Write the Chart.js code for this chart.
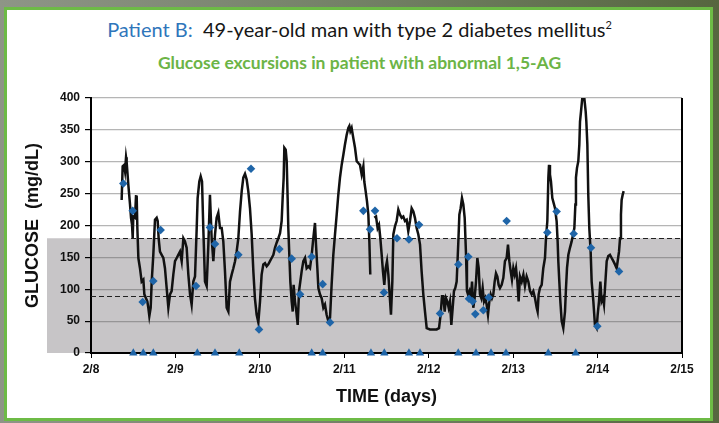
<!DOCTYPE html>
<html>
<head>
<meta charset="utf-8">
<script src="https://cdn.jsdelivr.net/npm/chart.js@4.4.1/dist/chart.umd.min.js"></script>
<style>
  html, body { margin: 0; padding: 0; }
  body {
    width: 719px; height: 423px; position: relative; overflow: hidden;
    background: linear-gradient(to right, #8e9587 0%, #707e62 55%, #56663f 100%);
  }
  #frame {
    position: absolute; left: 4px; top: 7px; width: 703px; height: 408px;
    border: 3px solid #6dbb46; background: #fff;
  }
  #title {
    position: absolute; left: 0; top: 17px; width: 719px; text-align: center;
    font-family: Lato, "Open Sans", sans-serif; font-size: 20px; color: #161616;
  }
  #title .pt { color: #2f76bb; }
  #title sup { font-size: 11px; vertical-align: 8px; line-height: 0; }
  #subtitle {
    position: absolute; left: 0; top: 52px; width: 719px; text-align: center;
    font-family: Lato, "Open Sans", sans-serif; font-weight: bold; font-size: 17.5px; color: #6cb446;
  }
  canvas { position: absolute; left: 0; top: 0; }
</style>
</head>
<body>
<div id="frame"></div>
<div id="title"><span class="pt">Patient B:</span>&nbsp; 49-year-old man with type 2 diabetes mellitus<sup>2</sup></div>
<div id="subtitle">Glucose excursions in patient with abnormal 1,5-AG</div>
<canvas id="glucoseChart" width="719" height="423"></canvas>
<script>
// x values are days after 2/8 00:00
const dayLabels = ["2/8", "2/9", "2/10", "2/11", "2/12", "2/13", "2/14", "2/15"];

// continuous sensor trace (null = sensor gap)
const cgmTime = [
  0.363, 0.375, 0.391, 0.403, 0.415, 0.422, 0.442, 0.462, 0.474, 0.486, 0.494, 0.501, 0.521, 0.533, 0.541, 0.549,
  0.561, 0.580, 0.600, 0.620, 0.632, 0.651, 0.667, 0.679, 0.691, 0.707, 0.719, 0.738, 0.758, 0.778, 0.790, 0.801,
  0.817, 0.837, 0.857, 0.876, 0.896, 0.916, 0.936, 0.955, 0.975, 0.995, 1.015, 1.034, 1.054, 1.074, 1.094, 1.113,
  1.133, 1.153, 1.173, 1.192, 1.212, 1.232, 1.252, 1.263, 1.283, 1.299, 1.315, 1.330, 1.350, 1.370, 1.390, 1.409,
  1.429, 1.449, 1.469, 1.488, 1.508, 1.528, 1.548, 1.567, 1.587, 1.607, 1.627, 1.646, 1.666, 1.686, 1.706, 1.725,
  1.745, 1.765, 1.785, 1.804, 1.824, 1.844, 1.863, 1.883, 1.903, 1.923, 1.942, 1.962, 1.982, 2.002, 2.021, 2.041,
  2.061, 2.081, 2.100, 2.120, 2.140, 2.160, 2.179, 2.199, 2.219, 2.239, 2.258, 2.270, 2.282, 2.290, 2.306, 2.318,
  2.329, 2.337, 2.349, 2.361, 2.377, 2.389, 2.400, 2.416, 2.432, 2.448, 2.464, 2.479, 2.495, 2.515, 2.535, 2.554,
  2.574, 2.594, 2.614, 2.633, 2.653, 2.665, 2.681, 2.693, 2.712, 2.732, 2.752, 2.771, 2.791, 2.811, 2.831, 2.850,
  2.870, 2.890, 2.910, 2.929, 2.949, 2.969, 2.989, 3.008, 3.028, 3.048, 3.060, 3.072, 3.087, 3.107, 3.127, 3.147,
  3.166, 3.186, 3.206, 3.226, 3.237, 3.253, 3.269, 3.285, 3.297, 3.308, 3.330, 3.356, 3.376, 3.395, 3.411, 3.427,
  3.443, 3.458, 3.474, 3.490, 3.506, 3.522, 3.537, 3.553, 3.569, 3.581, 3.601, 3.620, 3.640, 3.660, 3.680, 3.699,
  3.719, 3.739, 3.758, 3.778, 3.798, 3.818, 3.837, 3.857, 3.877, 3.897, 3.916, 3.936, 3.956, 3.976, 4.015, 4.055,
  4.094, 4.122, 4.141, 4.157, 4.173, 4.189, 4.205, 4.220, 4.236, 4.252, 4.268, 4.284, 4.299, 4.315, 4.331, 4.351,
  4.363, 4.378, 4.394, 4.410, 4.426, 4.442, 4.453, 4.465, 4.481, 4.497, 4.513, 4.528, 4.544, 4.560, 4.576, 4.592,
  4.607, 4.623, 4.639, 4.655, 4.670, 4.686, 4.702, 4.718, 4.734, 4.749, 4.765, 4.781, 4.797, 4.813, 4.828, 4.844,
  4.864, 4.884, 4.903, 4.923, 4.939, 4.955, 4.971, 4.986, 5.002, 5.018, 5.034, 5.050, 5.065, 5.081, 5.101, 5.121,
  5.140, 5.160, 5.180, 5.200, 5.219, 5.239, 5.259, 5.279, 5.290, 5.302, 5.318, 5.338, 5.357, 5.377, 5.389, 5.405,
  5.417, 5.425, 5.436, 5.448, 5.464, 5.480, 5.496, 5.515, 5.527, 5.535, 5.547, 5.559, 5.575, 5.594, 5.614, 5.626,
  5.638, 5.654, 5.673, 5.693, 5.713, 5.725, 5.737, 5.744, 5.756, 5.772, 5.784, 5.792, 5.804, 5.819, 5.843, 5.859,
  5.867, 5.879, 5.890, 5.902, 5.918, 5.930, 5.950, 5.969, 5.989, 6.001, 6.017, 6.033, 6.048, 6.064, 6.076, 6.088,
  6.108, 6.127, 6.147, 6.167, 6.187, 6.206, 6.226, 6.238, 6.254, 6.266, 6.277, 6.285, 6.297, 6.309
];
const cgmGlucose = [
  240, 293, 295, 285, 307, 300, 264, 233, 212, 201, 180, 214, 212, 246, 247, 196,
  149, 133, 112, 115, 92, 86, 81, 71, 58, 71, 112, 154, 209, 212, 207, 180,
  159, 154, 149, 133, 102, 71, 92, 97, 123, 144, 149, 154, 159, 144, 180, 175,
  165, 123, 92, 76, 112, 120, 196, 243, 269, 277, 269, 196, 112, 105, 170, 248,
  180, 144, 186, 212, 220, 196, 196, 175, 128, 71, 65, 112, 123, 133, 144, 159,
  180, 222, 254, 275, 281, 272, 254, 227, 186, 128, 85, 60, 48, 81, 123, 139,
  141, 136, 139, 144, 149, 154, 165, 173, 180, 188, 207, 243, 275, 322, 319, 301,
  243, 196, 154, 112, 81, 65, 107, 81, 65, 44, 97, 112, 128, 144, 149, 133,
  136, 133, 154, 180, 204, 170, 133, 102, 92, 86, 71, 76, 60, 50, 55, 107,
  154, 186, 217, 248, 275, 295, 311, 327, 342, 353, 356, 348, 353, 337, 322, 301,
  298, 295, 280, 293, 269, 254, 238, 217, 175, 123, null, 212, 214, 196, 201, 180,
  154, 128, 107, 133, 144, 123, 92, 60, 112, 186, 199, 207, 225, 217, 212, 214,
  207, 209, 191, 207, 227, 222, 212, 196, 186, 170, 128, 92, 65, 39, 37, 37,
  37, 39, 60, 89, 89, 65, 86, 81, 71, 81, 44, 71, 97, 102, 112, 175,
  217, 227, 243, 233, 212, 154, 97, 92, 97, 81, 112, 71, 86, 112, 149, 133,
  92, 86, 102, 81, 86, 76, 60, 81, 92, 86, 92, 112, 125, 120, 107, 102,
  107, 118, 144, 149, 170, 144, 128, 115, 133, 123, 133, 112, 81, 120, 112, 123,
  105, 120, 112, 97, 92, 97, 86, 71, 65, 92, 102, 107, 133, 149, 180, 207,
  275, 295, 280, 269, 243, 235, 227, 207, 175, 144, 112, 81, 50, 39, 65, 102,
  133, 154, 165, 175, 188, 196, 233, 275, 290, 301, 327, 363, 379, 400, 400, 379,
  363, 327, 248, 196, 159, 112, 81, 44, 39, 60, 81, 112, 81, 86, 76, 102,
  144, 152, 154, 149, 144, 139, 133, 144, 159, 180, 217, 240, 248, 254
];

// fingerstick meter readings (diamonds)
const meterTime = [
  0.383, 0.494, 0.612, 0.738, 0.825, 1.244, 1.409, 1.469, 1.745, 1.895, 1.990, 2.231, 2.377,
  2.476, 2.614, 2.744, 2.831, 3.226, 3.305, 3.364, 3.470, 3.624, 3.766, 3.885, 4.134, 4.351,
  4.469, 4.477, 4.520, 4.552, 4.647, 4.710, 4.923, 5.405, 5.515, 5.717, 5.922, 5.997, 6.254
];
const meterGlucose = [
  266, 223, 80, 113, 193, 105, 197, 171, 154, 289, 37, 163, 148,
  92, 151, 108, 48, 223, 194, 223, 95, 180, 178, 201, 62, 139,
  151, 85, 81, 61, 67, 87, 207, 189, 222, 187, 165, 42, 128
];

// calibration entries (triangles on the time axis)
const calibTime = [
  0.501, 0.619, 0.738, 1.259, 1.469, 1.756, 2.614, 2.744, 3.316,
  3.474, 3.766, 3.897, 4.350, 4.560, 4.738, 4.915, 5.416, 5.741
];

const targetRange = [0, 180];
const dashedLevels = [180, 90];

const tickFont = { family: "'Liberation Sans Narrow', 'Arial Narrow', Arial, sans-serif", size: 12, weight: "bold" };
const titleFont = { family: "'Liberation Sans Narrow', 'Arial Narrow', Arial, sans-serif", size: 18, weight: "bold" };

const rangePlugin = {
    id: "rangeBand",
    beforeDraw(chart) {
        const { ctx, chartArea, scales } = chart;
        const top = scales.y.getPixelForValue(targetRange[1]);
        const bottom = scales.y.getPixelForValue(targetRange[0]);
        ctx.save();
        ctx.fillStyle = "#c7c5c7";
        ctx.fillRect(chartArea.left - 44, top, chartArea.right - chartArea.left + 44, bottom - top);
        ctx.restore();
    },
    beforeDatasetsDraw(chart) {
        const { ctx, chartArea, scales } = chart;
        ctx.save();
        ctx.strokeStyle = "#222";
        ctx.lineWidth = 1;
        ctx.setLineDash([5, 3]);
        dashedLevels.forEach((v) => {
            const y = Math.round(scales.y.getPixelForValue(v)) + 0.5;
            ctx.beginPath();
            ctx.moveTo(chartArea.left, y);
            ctx.lineTo(chartArea.right, y);
            ctx.stroke();
        });
        ctx.setLineDash([]);
        ctx.strokeStyle = "#000";
        ctx.lineWidth = 2;
        ctx.beginPath();
        ctx.moveTo(chartArea.right, chartArea.top);
        ctx.lineTo(chartArea.right, chartArea.bottom);
        ctx.stroke();
        ctx.restore();
    },
};

const ctx = document.getElementById("glucoseChart").getContext("2d");
const glucoseChart = new Chart(ctx, {
    type: "scatter",
    data: {
        datasets: [
            {
                label: "Meter",
                data: meterTime.map((t, i) => ({ x: t, y: meterGlucose[i] })),
                pointStyle: "rectRot",
                pointRadius: 4.3,
                pointBorderWidth: 0,
                backgroundColor: "#1f65a8",
                borderColor: "#1f65a8",
            },
            {
                label: "Calibration",
                data: calibTime.map((t) => ({ x: t, y: 0 })),
                pointStyle: "triangle",
                pointRadius: 4.8,
                pointBorderWidth: 0,
                backgroundColor: "#1f65a8",
                borderColor: "#1f65a8",
                clip: false,
            },
            {
                label: "CGM",
                data: cgmTime.map((t, i) => ({ x: t, y: cgmGlucose[i] })),
                showLine: true,
                spanGaps: false,
                borderColor: "#111",
                borderWidth: 2.5,
                pointRadius: 0,
                tension: 0,
            },
        ],
    },
    options: {
        responsive: false,
        animation: false,
        devicePixelRatio: 1,
        layout: { padding: { top: 98, right: 37, bottom: 0, left: 0 } },
        plugins: {
            legend: { display: false },
            tooltip: { enabled: false },
        },
        scales: {
            x: {
                type: "linear",
                min: 0,
                max: 7,
                afterFit: (scale) => { scale.height = 70; },
                ticks: {
                    stepSize: 1,
                    color: "#111",
                    font: tickFont,
                    padding: 4,
                    maxRotation: 0,
                    callback: (v) => dayLabels[Math.round(v)],
                },
                grid: { drawOnChartArea: false, tickColor: "#000", tickLength: 5 },
                border: { color: "#000", width: 2 },
                title: { display: true, text: "TIME (days)", color: "#111", font: titleFont, padding: { top: 0, bottom: 15 } },
            },
            y: {
                min: 0,
                max: 400,
                afterFit: (scale) => { scale.width = 91; },
                ticks: { stepSize: 50, color: "#111", font: tickFont, padding: 5 },
                grid: { color: "rgba(90, 90, 90, 0.45)", tickColor: "#000", tickLength: 6, lineWidth: 1.2 },
                border: { color: "#000", width: 2 },
                title: { display: true, text: "GLUCOSE  (mg/dL)", color: "#111", font: titleFont, padding: { top: 22, bottom: 0 } },
            },
        },
    },
    plugins: [rangePlugin],
});
</script>
</body>
</html>
